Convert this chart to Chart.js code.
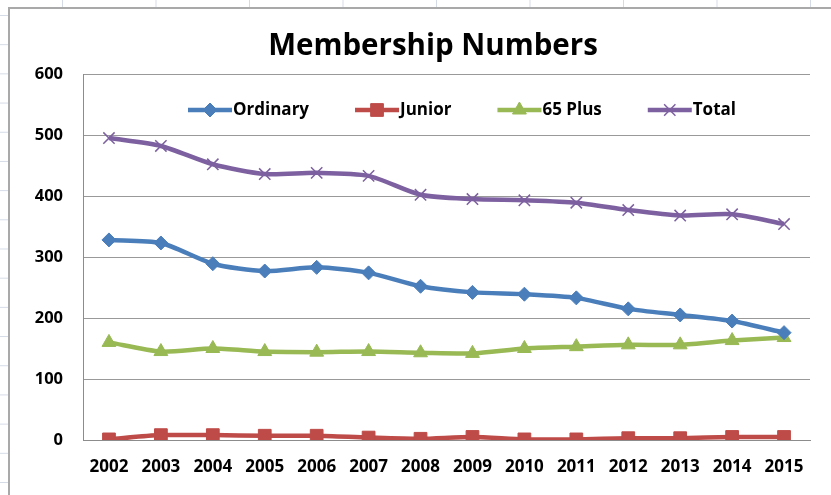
<!DOCTYPE html>
<html>
<head>
<meta charset="utf-8">
<script src="https://cdn.jsdelivr.net/npm/chart.js@4.4.0/dist/chart.umd.min.js"></script>
<style>
  html, body { margin: 0; padding: 0; }
  body {
    width: 831px; height: 495px; overflow: hidden; position: relative;
    background-color: #fff;
    background-image:
      linear-gradient(to right, #d5dbe6 1px, transparent 1px),
      linear-gradient(to bottom, #d5dbe6 1px, transparent 1px);
    background-size: 93.5px 100%, 100% 29.2px;
    background-position: 62px 0, 0 15px;
  }
  #box {
    position: absolute; left: 8px; top: 7px; width: 840px; height: 500px;
    background: #fff;
    border-left: 2px solid #a9a9a9; border-top: 2px solid #a9a9a9;
  }
  #chart { position: absolute; left: 0; top: 0; }
</style>
</head>
<body>
<div id="box"></div>
<canvas id="chart" width="831" height="495"></canvas>
<script>
const years = ['2002', '2003', '2004', '2005', '2006', '2007', '2008',
               '2009', '2010', '2011', '2012', '2013', '2014', '2015'];
const ordinary = [328, 323, 289, 277, 283, 274, 252, 242, 239, 233, 215, 205, 195, 176];
const junior   = [1, 8, 8, 7, 7, 4, 2, 5, 1, 1, 3, 3, 5, 5];
const plus65   = [160, 145, 150, 145, 144, 145, 143, 142, 150, 153, 156, 156, 163, 168];
const total    = [495, 482, 452, 436, 438, 433, 402, 395, 393, 389, 377, 368, 370, 354];
const yTicks   = [0, 100, 200, 300, 400, 500, 600];

const FONT = '"Open Sans", "Liberation Sans", sans-serif';

function series(label, data, color, pointStyle, radius, pointBorder) {
    return {
        label, data,
        borderColor: color,
        backgroundColor: color,
        borderWidth: 4.5,
        tension: 0.25,
        pointStyle,
        pointRadius: radius,
        pointHoverRadius: radius,
        pointBackgroundColor: color,
        pointBorderColor: color,
        pointBorderWidth: pointBorder
    };
}

// Excel-style legend: line sample with marker, then label
const excelLegend = {
    id: 'excelLegend',
    afterLayout(chart) {
        // Excel centres the title a bit right of the canvas centre
        if (chart.titleBlock) chart.titleBlock.left = 56;
    },
    afterDraw(chart) {
        const ctx = chart.ctx;
        const y = 110;
        let x = 188;
        ctx.save();
        ctx.font = 'bold 17px ' + FONT;
        ctx.textBaseline = 'middle';
        chart.data.datasets.forEach(ds => {
            ctx.strokeStyle = ds.borderColor;
            ctx.lineWidth = 4.5;
            ctx.beginPath();
            ctx.moveTo(x, y);
            ctx.lineTo(x + 44, y);
            ctx.stroke();
            ctx.fillStyle = ds.pointBackgroundColor;
            ctx.strokeStyle = ds.pointBorderColor;
            ctx.lineWidth = ds.pointBorderWidth;
            Chart.helpers.drawPoint(ctx, {
                pointStyle: ds.pointStyle,
                radius: ds.pointRadius,
                borderWidth: ds.pointBorderWidth,
                rotation: 0
            }, x + 22, y);
            ctx.fillStyle = '#000';
            ctx.fillText(ds.label, x + 45, y);
            x += 45 + ctx.measureText(ds.label).width + 46;
        });
        ctx.restore();
    }
};

const chart = new Chart(document.getElementById('chart'), {
    type: 'line',
    data: {
        labels: years,
        datasets: [
            series('Ordinary', ordinary, '#4a7ebb', 'rectRot', 7, 1),
            series('Junior', junior, '#be4b48', 'rect', 9, 1),
            series('65 Plus', plus65, '#98b954', 'triangle', 8, 1),
            series('Total', total, '#7d60a0', 'crossRot', 8, 1.5)
        ]
    },
    options: {
        responsive: false,
        animation: false,
        layout: { padding: { left: 30, right: 21, top: 0, bottom: 0 } },
        plugins: {
            legend: { display: false },
            tooltip: { enabled: false },
            title: {
                display: true,
                text: 'Membership Numbers',
                color: '#000',
                font: { family: FONT, size: 29.5, weight: 'bold', lineHeight: 1.2 },
                padding: { top: 29, bottom: 9.6 }
            }
        },
        scales: {
            x: {
                offset: true,
                grid: { display: false, drawTicks: false },
                border: { display: true, color: '#8c8c8c', width: 1 },
                ticks: {
                    color: '#000', padding: 17, maxRotation: 0, autoSkip: false,
                    font: { family: FONT, size: 17, weight: 'bold' }
                },
                afterFit(s) { s.height = 55; }
            },
            y: {
                min: 0, max: 600,
                afterBuildTicks(s) { s.ticks = yTicks.map(v => ({ value: v })); },
                grid: { color: '#999', lineWidth: 1, drawTicks: false },
                border: { display: true, color: '#8c8c8c', width: 1 },
                ticks: {
                    color: '#000', padding: 20,
                    font: { family: FONT, size: 16.5, weight: 'bold' }
                },
                afterFit(s) { s.width = 53; }
            }
        }
    },
    plugins: [excelLegend]
});
</script>
</body>
</html>
